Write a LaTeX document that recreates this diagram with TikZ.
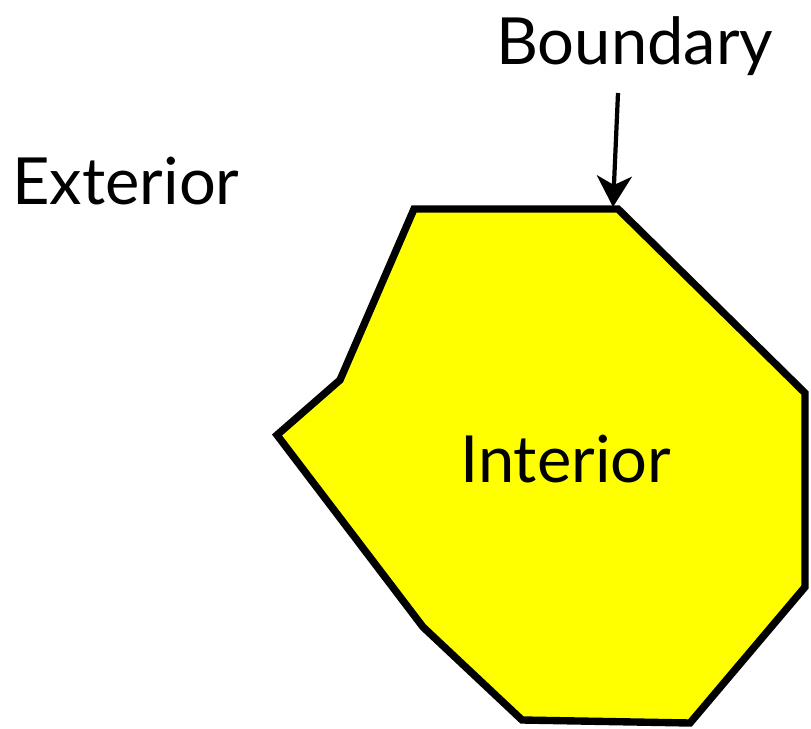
\documentclass[tikz,border=0pt]{standalone}
\usepackage{fontspec}
\setmainfont{Lato}
\usetikzlibrary{arrows.meta}
\definecolor{cFill}{HTML}{FFFF00}
\definecolor{cInk}{HTML}{000000}
\tikzset{
  region/.style={draw=cInk, fill=cFill, line width=4.2pt},
  lbl/.style={font=\fontsize{37}{44}\selectfont, text=cInk, inner sep=0pt},
  pointer/.style={-{Stealth[length=0.62cm,width=0.7cm,inset=0.18cm]}, draw=cInk, line width=2.4pt},
}
\begin{document}
\begin{tikzpicture}[x=0.02cm,y=-0.02cm]
\useasboundingbox (0,0) rectangle (811,729);

% ------------------------------------------------------------ the set
\draw[region] (414,209) -- (618,209) -- (805,393) -- (805,587) -- (690,723)
      -- (522,720) -- (423,627) -- (277,435) -- (340,380) -- cycle;

% ------------------------------------------------------------ labels
\node[lbl, anchor=base west] (ext) at (12,205) {Exterior};
\node[lbl, anchor=base west] (int) at (460,482) {Interior};
\node[lbl, anchor=base west] (bnd) at (496,65) {Boundary};

% ------------------------------------------------------------ pointer to the edge
\coordinate (atail) at (618,93);
\coordinate (ahit)  at (613,207);
\draw[pointer] (atail) -- (ahit);

\end{tikzpicture}
\end{document}
